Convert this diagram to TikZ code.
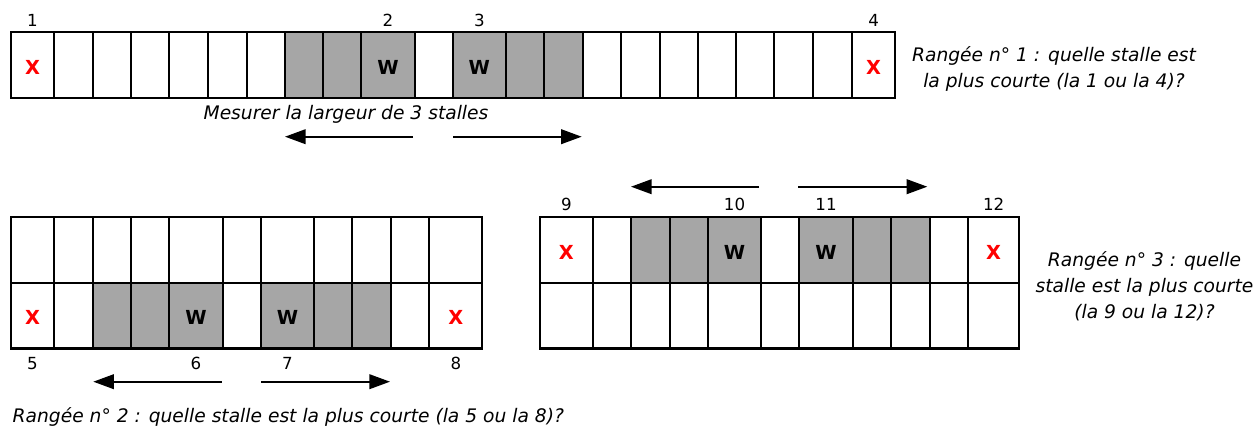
\documentclass[tikz,border=0pt]{standalone}
\usepackage{fontspec}
\setmainfont{DejaVu Sans}
\usetikzlibrary{arrows.meta}
\definecolor{stallgrey}{RGB}{166,166,166}
\definecolor{xred}{RGB}{255,0,0}
\tikzset{
  numlab/.style={font=\fontsize{12.5}{14}\selectfont},
  xlab/.style={font=\fontsize{14.5}{16}\selectfont\bfseries, text=xred},
  wlab/.style={font=\fontsize{14.5}{16}\selectfont\bfseries},
  question/.style={font=\fontsize{14}{19.5}\selectfont\itshape, align=center, inner sep=0pt},
  arr/.style={line width=1.4pt, -{Triangle[length=15.5pt,width=11pt]}},
}
\begin{document}
\begin{tikzpicture}[x=0.75pt,y=-0.75pt,line width=1.5pt]
\useasboundingbox (0,0) rectangle (1259,427);
% rangee 1
\fill[stallgrey] (285,32.3) rectangle (415,98.3);
\fill[stallgrey] (453,32.3) rectangle (582.7,98.3);
\draw (11,32.3) rectangle (895,98.3);
\foreach \x in {54,92.7,131,169.3,208.3,246.7,285,322.7,361,415,453,505.7,544.3,582.7,621,660,697.7,736,774.3,812.7,852.3} \draw (\x,32.3) -- (\x,98.3);
\node[numlab] (n1) at (32.5,20) {1};
\node[numlab] (n2) at (388,20) {2};
\node[numlab] (n3) at (479.3,20) {3};
\node[numlab] (n4) at (873.6,20) {4};
\node[xlab] (x1) at (32.5,67) {X};
\node[wlab] (w2) at (388,67) {W};
\node[wlab] (w3) at (479.3,67) {W};
\node[xlab] (x4) at (873.6,67) {X};
\node[font=\fontsize{14}{19.5}\selectfont\itshape, inner sep=0pt, anchor=base] (mes) at (346,120) {Mesurer la largeur de 3 stalles};
\coordinate (a1l) at (413,136.7);
\coordinate (b1l) at (285,136.7);
\coordinate (a1r) at (453.3,136.7);
\coordinate (b1r) at (581.7,136.7);
\draw[arr] (a1l) -- (b1l);
\draw[arr] (a1r) -- (b1r);
\node[question, anchor=north] (q1) at (1054,45.5) {Rangée n° 1 : quelle stalle est\\la plus courte (la 1 ou la 4)?};
% rangee 2
\fill[stallgrey] (92.7,282.7) rectangle (222.7,348.5);
\fill[stallgrey] (261,282.7) rectangle (390.7,348.5);
\draw (11,217) rectangle (482.3,348.5);
\draw (11,282.7) -- (482.3,282.7);
\foreach \x in {54,92.7,131,169.3,222.7,261,314,352.3,390.7,429.3} \draw (\x,217) -- (\x,348.5);
\node[numlab] (n5) at (32.5,363.8) {5};
\node[numlab] (n6) at (196,363.8) {6};
\node[numlab] (n7) at (287.5,363.8) {7};
\node[numlab] (n8) at (455.8,363.8) {8};
\node[xlab] (x5) at (32.5,317.5) {X};
\node[wlab] (w6) at (196,317.5) {W};
\node[wlab] (w7) at (287.5,317.5) {W};
\node[xlab] (x8) at (455.8,317.5) {X};
\coordinate (a2l) at (221.7,381.7);
\coordinate (b2l) at (93.3,381.7);
\coordinate (a2r) at (261,381.7);
\coordinate (b2r) at (390,381.7);
\draw[arr] (a2l) -- (b2l);
\draw[arr] (a2r) -- (b2r);
\node[question, anchor=base west] (q2) at (11.7,422) {Rangée n° 2 : quelle stalle est la plus courte (la 5 ou la 8)?};
% rangee 3
\fill[stallgrey] (631,217) rectangle (760.7,282.7);
\fill[stallgrey] (799.3,217) rectangle (930,282.7);
\draw (540,217) rectangle (1019,348.5);
\draw (540,282.7) -- (1019,282.7);
\foreach \x in {592.7,631,670,708.3,760.7,799.3,852.7,891,930,968.3} \draw (\x,217) -- (\x,348.5);
\node[numlab] (n9) at (566.3,204.2) {9};
\node[numlab] (n10) at (734.5,204.2) {10};
\node[numlab] (n11) at (826,204.2) {11};
\node[numlab] (n12) at (993.6,204.2) {12};
\node[xlab] (x9) at (566.3,252) {X};
\node[wlab] (w10) at (734.5,252) {W};
\node[wlab] (w11) at (826,252) {W};
\node[xlab] (x12) at (993.6,252) {X};
\coordinate (a3l) at (759,186.7);
\coordinate (b3l) at (631,186.7);
\coordinate (a3r) at (798.3,186.7);
\coordinate (b3r) at (927.3,186.7);
\draw[arr] (a3l) -- (b3l);
\draw[arr] (a3r) -- (b3r);
\node[question, anchor=north] (q3) at (1144.5,250.7) {Rangée n° 3 : quelle\\stalle est la plus courte\\(la 9 ou la 12)?};
\end{tikzpicture}
\end{document}
